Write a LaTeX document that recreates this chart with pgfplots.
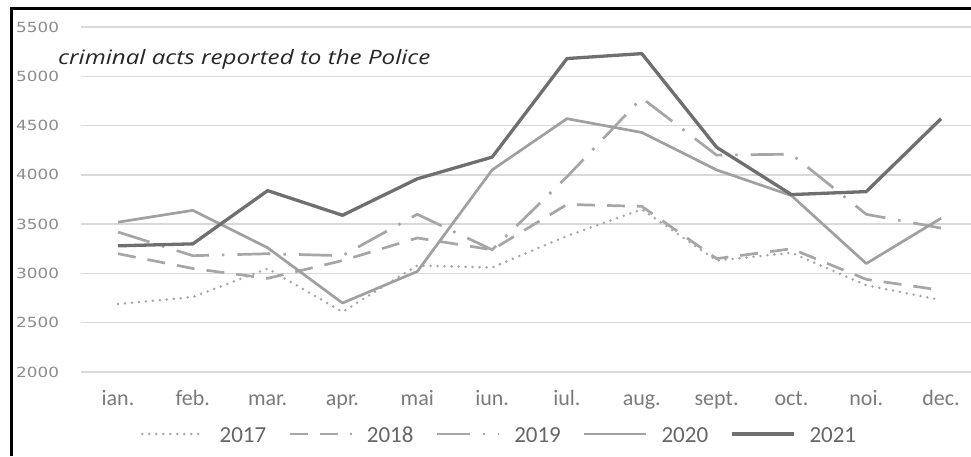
\documentclass[border=0pt]{standalone}
\usepackage{pgfplots}
\pgfplotsset{compat=1.18}
\usepackage{fontspec}
\setmainfont{Carlito}
\newfontfamily\ytickfont[FakeStretch=1.2]{DejaVu Sans}
\newfontfamily\titlefont[FakeStretch=1.22]{Open Sans}

\definecolor{gridgray}{HTML}{D9D9D9}
\definecolor{ylabgray}{HTML}{8C8C8C}
\definecolor{xlabgray}{HTML}{7A7A7A}
\definecolor{leggray}{HTML}{666666}
\definecolor{lightline}{HTML}{A6A6A6}
\definecolor{midline}{HTML}{A0A0A0}
\definecolor{darkline}{HTML}{6F6F6F}

\begin{document}
\begin{tikzpicture}
% page area
\path[use as bounding box] (0pt,0pt) rectangle (971pt,456pt);

\begin{axis}[
  scale only axis,
  width=890.4pt, height=345pt,
  at={(80.6pt,84pt)}, anchor=south west,
  xmin=-0.5, xmax=11.4,
  ymin=2000, ymax=5500,
  xtick={0,...,11},
  xticklabels={ian.,feb.,mar.,apr.,mai,iun.,iul.,aug.,sept.,oct.,noi.,dec.},
  ytick={2000,2500,3000,3500,4000,4500,5000,5500},
  yticklabels={2000,2500,3000,3500,4000,4500,5000,5500},
  ymajorgrids,
  major grid style={color=gridgray, line width=1.3pt},
  axis line style={draw=none},
  major tick length=0pt,
  tick style={draw=none},
  yticklabel style={anchor=west, inner sep=0pt, xshift=-64.6pt,
    font=\ytickfont\fontsize{14}{16}\selectfont, text=ylabgray},
  xticklabel style={anchor=base, inner sep=0pt, yshift=-33pt,
    font=\fontsize{22}{26}\selectfont, text=xlabgray},
  legend columns=5,
  legend style={draw=none, fill=none,
    at={(0.4693,-0.1826)}, anchor=center,
    font=\fontsize{23}{26}\selectfont, text=leggray,
    nodes={inner sep=0pt, text height=15pt, text depth=0pt},
    /tikz/every odd column/.append style={column sep=14pt},
    /tikz/every even column/.append style={column sep=22pt}},
  legend image code/.code={\draw[#1] (0pt,1pt) -- (62pt,1pt);},
]

% 2017
\addplot[color=lightline, line width=2.8pt, line cap=round,
  dash pattern=on 0pt off 7pt]
  coordinates {(0,2690) (1,2760) (2,3050) (3,2610) (4,3080) (5,3060)
               (6,3380) (7,3650) (8,3130) (9,3210) (10,2880) (11,2730)};
\addlegendentry{2017}

% 2018
\addplot[color=lightline, line width=2.7pt,
  dash pattern=on 18pt off 12pt]
  coordinates {(0,3200) (1,3050) (2,2950) (3,3130) (4,3360) (5,3240)
               (6,3700) (7,3680) (8,3150) (9,3250) (10,2940) (11,2830)};
\addlegendentry{2018}

% 2019
\addplot[color=lightline, line width=2.7pt,
  dash pattern=on 33pt off 13pt on 2.5pt off 13pt]
  coordinates {(0,3420) (1,3180) (2,3200) (3,3180) (4,3600) (5,3240)
               (6,3980) (7,4780) (8,4200) (9,4210) (10,3600) (11,3460)};
\addlegendentry{2019}

% 2020
\addplot[color=midline, line width=2.7pt, line join=round]
  coordinates {(0,3520) (1,3640) (2,3260) (3,2700) (4,3020) (5,4050)
               (6,4570) (7,4430) (8,4050) (9,3790) (10,3100) (11,3560)};
\addlegendentry{2020}

% 2021
\addplot[color=darkline, line width=3.3pt, line join=round]
  coordinates {(0,3280) (1,3300) (2,3840) (3,3590) (4,3960) (5,4180)
               (6,5180) (7,5230) (8,4280) (9,3800) (10,3830) (11,4570)};
\addlegendentry{2021}

\end{axis}

% caption inside the plot area
\node[anchor=base west, inner sep=0pt, text=black!85]
  at (58pt,391pt) {\titlefont\itshape\fontsize{19.8}{22}\selectfont criminal acts reported to the Police};

% frame on the left and top
\draw[line width=2.8pt, black] (11.3pt,0pt) -- (11.3pt,447.5pt) -- (971pt,447.5pt);
\end{tikzpicture}
\end{document}
